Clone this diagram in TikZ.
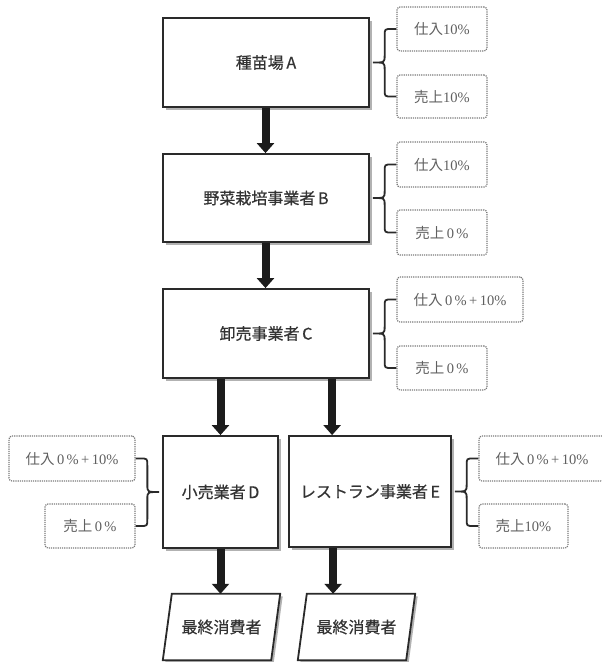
\documentclass[tikz,border=0pt]{standalone}
\usepackage{fontspec}
\setmainfont{Noto Sans CJK JP}
\newfontfamily\jpm{Noto Sans CJK JP}[FakeBold=0.6]
\newfontfamily\srf{Liberation Serif}
\usetikzlibrary{arrows.meta,shadows,calc}
\definecolor{boxc}{HTML}{2A2A2A}
\definecolor{txtc}{HTML}{333333}
\definecolor{lblc}{HTML}{7A7A7A}
\definecolor{lbltxt}{HTML}{606060}
\definecolor{arrc}{HTML}{1C1C1C}
\newcommand\num[1]{{\srf #1}}
\newcommand\brc[4]{%
 \draw[brcstyle] let \p1=(#1), \p2=(#2), \p3=(#3), \p4=($(#1)!0.5!(#3)$) in
 (\x1,\y1) -- ({\x4+#4*7pt},\y1) .. controls (\x4,\y1) .. (\x4,{\y1-7pt})
 -- (\x4,{\y3+7pt}) .. controls (\x4,\y3) .. (\x3,\y3)
 .. controls (\x4,\y3) .. (\x4,{\y3-7pt})
 -- (\x4,{\y2+7pt}) .. controls (\x4,\y2) .. ({\x4+#4*7pt},\y2) -- (\x2,\y2);}
\begin{document}
\begin{tikzpicture}[x=1pt,y=-1pt,
 box/.style={draw=boxc, line width=1.8pt, fill=white, text=txtc,
   font=\jpm\fontsize{16}{19}\selectfont, inner sep=0pt,
   drop shadow={shadow xshift=2.5pt, shadow yshift=-2.5pt, fill=black, opacity=0.3}},
 lbl/.style={draw=lblc, densely dotted, line width=1.2pt, rounded corners=3pt,
   text=lbltxt, font=\fontsize{14.5}{17}\selectfont, inner sep=0pt},
 flow/.style={line width=8pt, draw=arrc, -{Triangle[length=10pt,width=17pt]}},
 brcstyle/.style={draw=boxc, line width=1.8pt},
 cons/.style={text=txtc, font=\jpm\fontsize{16}{19}\selectfont, inner sep=0pt,
   minimum width=108pt, minimum height=66pt},
 cshape/.style={draw=boxc, line width=1.8pt, fill=white,
   drop shadow={shadow xshift=2.5pt, shadow yshift=-2.5pt, fill=black, opacity=0.3}}]
\useasboundingbox (0,0) rectangle (602,662);
% main boxes
\node[box, minimum width=206pt, minimum height=89pt] (A) at (266,62.5) {種苗場\,A};
\node[box, minimum width=206pt, minimum height=88pt] (B) at (266,198) {野菜栽培事業者\,B};
\node[box, minimum width=206pt, minimum height=89pt] (C) at (266,333.5) {卸売事業者\,C};
\node[box, minimum width=115pt, minimum height=112pt] (D) at (220.5,492) {小売業者\,D};
\node[box, minimum width=162pt, minimum height=111pt] (E) at (370,491.5) {レストラン事業者\,E};
% labels
\node[lbl, minimum width=90pt, minimum height=44pt] (A1) at (442,29) {仕入\num{10\%}};
\node[lbl, minimum width=90pt, minimum height=43pt] (A2) at (442,96.5) {売上\num{10\%}};
\node[lbl, minimum width=90pt, minimum height=45pt] (B1) at (442,164.5) {仕入\num{10\%}};
\node[lbl, minimum width=90pt, minimum height=45pt] (B2) at (442,232.5) {売上\num{\,0\,\%}};
\node[lbl, minimum width=126pt, minimum height=45pt] (C1) at (460,299.5) {仕入\num{\,0\,\%\,+\,10\%}};
\node[lbl, minimum width=90pt, minimum height=44pt] (C2) at (442,368) {売上\num{\,0\,\%}};
\node[lbl, minimum width=126pt, minimum height=45pt] (D1) at (72,458.5) {仕入\num{\,0\,\%\,+\,10\%}};
\node[lbl, minimum width=90pt, minimum height=44pt] (D2) at (90,526) {売上\num{\,0\,\%}};
\node[lbl, minimum width=126pt, minimum height=45pt] (E1) at (542,458.5) {仕入\num{\,0\,\%\,+\,10\%}};
\node[lbl, minimum width=89pt, minimum height=44pt] (E2) at (523.5,526) {売上\num{10\%}};
% braces
\brc{A1.west}{A2.west}{[xshift=3pt]A.east}{1}
\brc{B1.west}{B2.west}{[xshift=3pt]B.east}{1}
\brc{C1.west -| C2.west}{C2.west}{[xshift=3pt]C.east}{1}
\brc{D1.east}{D2.east}{[xshift=-3pt]D.west}{-1}
\brc{E1.west}{E2.west}{[xshift=3pt]E.east}{1}
% final consumers
\node[cons] (F1) at (221.5,627) {};
\node[cons] (F2) at (356.5,627) {};
\foreach \f in {F1,F2}{
 \path[cshape] ([xshift=-4.5pt]\f.south west) -- ([xshift=4.5pt]\f.north west)
   -- ([xshift=4.5pt]\f.north east) -- ([xshift=-4.5pt]\f.south east) -- cycle;
 \node[cons] at (\f) {最終消費者};
}
% arrows
\draw[flow] ([xshift=-0.5pt]A.south) -- ([xshift=-0.5pt]B.north);
\draw[flow] ([xshift=-0.5pt]B.south) -- ([xshift=-0.5pt]C.north);
\draw[flow] (C.south -| D.north) -- (D.north);
\draw[flow] ([xshift=44pt]E.north west |- C.south) -- ([xshift=44pt]E.north west);
\draw[flow] (D.south) -- (D.south |- F1.north);
\draw[flow] ([xshift=45pt]E.south west) -- ([xshift=45pt]E.south west |- F2.north);
\end{tikzpicture}
\end{document}
